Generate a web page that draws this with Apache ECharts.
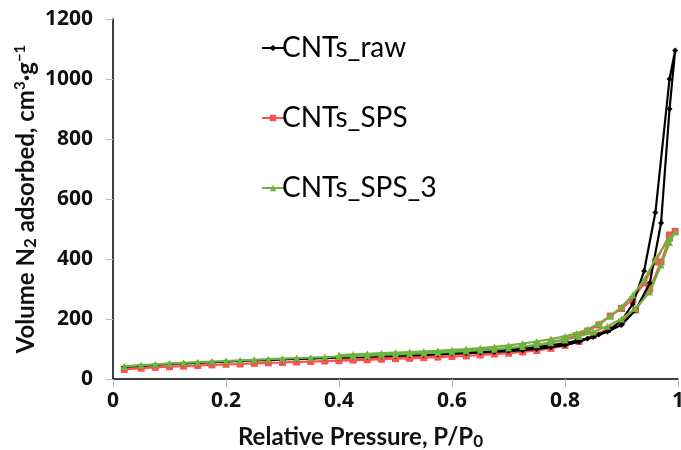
<!DOCTYPE html>
<html>
<head>
<meta charset="utf-8">
<script src="https://cdn.jsdelivr.net/npm/echarts@6/dist/echarts.min.js"></script>
<style>
  html, body { margin: 0; padding: 0; background: #fff; overflow: hidden; }
  #chart { width: 681px; height: 450px; }
</style>
</head>
<body>
<div id="chart"></div>
<script>
// relative pressure, adsorption branch (up) and desorption branch (down)
const pAds = [0.02, 0.05, 0.075, 0.10, 0.125, 0.15, 0.175, 0.20, 0.225, 0.25, 0.275, 0.30, 0.325, 0.35,
  0.375, 0.40, 0.425, 0.45, 0.475, 0.50, 0.525, 0.55, 0.575, 0.60, 0.625, 0.65, 0.675, 0.70, 0.725,
  0.75, 0.775, 0.80, 0.825, 0.85, 0.875, 0.90, 0.925, 0.95, 0.97, 0.985, 0.995]
const pDes = [0.985, 0.96, 0.94, 0.92, 0.90, 0.88, 0.86, 0.84, 0.82, 0.80, 0.775, 0.75, 0.725, 0.70,
  0.675, 0.65, 0.625, 0.60, 0.575, 0.55, 0.525, 0.50, 0.475, 0.45, 0.425, 0.40]

const rawAds = [40, 44, 47, 50, 52, 54, 56, 58, 60, 62, 63, 65, 67, 68, 70, 71, 73, 74, 76, 77, 79, 80,
  82, 84, 86, 88, 90, 93, 96, 100, 106, 113, 124, 140, 158, 180, 230, 320, 520, 900, 1095]
const rawDes = [1000, 555, 360, 250, 195, 165, 148, 135, 127, 120, 112, 106, 101, 97, 94, 91, 89, 87,
  85, 83, 81, 80, 78, 76, 75, 73]

const spsAds = [32, 36, 39, 41, 43, 45, 47, 49, 50, 52, 54, 55, 57, 58, 60, 61, 63, 64, 66, 68, 69, 71,
  73, 75, 77, 80, 83, 86, 90, 95, 102, 112, 125, 145, 165, 190, 230, 300, 390, 470, 492]
const spsDes = [480, 390, 320, 265, 235, 210, 180, 160, 145, 133, 122, 112, 105, 99, 94, 90, 87, 84,
  81, 78, 76, 74, 72, 70, 68, 66]

const sps3Ads = [42, 46, 49, 52, 54, 56, 58, 60, 62, 64, 66, 68, 70, 71, 73, 75, 76, 78, 80, 82, 84, 86,
  88, 90, 93, 96, 99, 103, 108, 114, 121, 130, 142, 157, 176, 200, 235, 290, 380, 455, 490]
const sps3Des = [470, 400, 330, 280, 240, 210, 185, 165, 152, 142, 133, 125, 118, 112, 107, 103, 100,
  97, 94, 92, 90, 88, 86, 84, 82, 80]

const seriesNames = ['CNTs_raw', 'CNTs_SPS', 'CNTs_SPS_3']

function loop(ads, des) {
  const pts = pAds.map((p, i) => [p, ads[i]])
  return pts.concat(pDes.map((p, i) => [p, des[i]]))
}

const chart = echarts.init(document.getElementById('chart'))

const axisFont = { fontFamily: 'Open Sans', fontWeight: 'bold', fontSize: 21, color: '#111' }
const nameFont = { fontFamily: 'Lato', fontWeight: 'bold', fontSize: 24, color: '#111' }

chart.setOption({
  animation: false,
  grid: { left: 113, right: 3, top: 19, bottom: 71, outerBoundsMode: 'none' },
  legend: {
    orient: 'vertical',
    left: 256,
    top: 28,
    itemWidth: 22,
    itemHeight: 8,
    itemGap: 40,
    data: seriesNames,
    textStyle: { fontFamily: 'Lato', fontSize: 28, color: '#000', lineHeight: 30, padding: [0, 0, 0, -7] }
  },
  xAxis: {
    type: 'value',
    min: 0,
    max: 1,
    interval: 0.2,
    axisLine: { lineStyle: { color: '#000', width: 1.5 } },
    axisTick: { show: true, length: 8, lineStyle: { color: '#bbb' } },
    axisLabel: { ...axisFont, margin: 12, formatter: (v) => String(+v.toFixed(1)) },
    splitLine: { show: false },
    name: 'Relative Pressure, P/P{sub|0}',
    nameLocation: 'middle',
    nameGap: 45,
    nameTextStyle: {
      ...nameFont,
      padding: [0, 70, 0, 0],
      rich: { sub: { ...nameFont, fontSize: 17, padding: [9, 0, 0, 0] } }
    }
  },
  yAxis: {
    type: 'value',
    min: 0,
    max: 1200,
    interval: 200,
    axisLine: { show: true, lineStyle: { color: '#000', width: 1.5 } },
    axisTick: { show: true, length: 7, lineStyle: { color: '#bbb' } },
    axisLabel: { ...axisFont, margin: 20, formatter: (v) => String(v) },
    splitLine: { show: false },
    name: 'Volume N{sub|2} adsorbed, cm{sup|3}·g{sup|−1}',
    nameLocation: 'middle',
    nameRotate: 90,
    nameGap: 73,
    nameMoveOverlap: false,
    nameTextStyle: {
      ...nameFont,
      rich: {
        sub: { ...nameFont, fontSize: 17, padding: [9, 0, 0, 0] },
        sup: { ...nameFont, fontSize: 15, padding: [0, 0, 12, 0] }
      }
    }
  },
  series: [
    {
      name: seriesNames[0],
      type: 'line',
      data: loop(rawAds, rawDes),
      symbol: 'diamond',
      symbolSize: 6,
      lineStyle: { color: '#000', width: 2.2 },
      itemStyle: { color: '#000' },
      z: 3
    },
    {
      name: seriesNames[1],
      type: 'line',
      data: loop(spsAds, spsDes),
      symbol: 'rect',
      symbolSize: 7,
      lineStyle: { color: '#ff4f4f', width: 2.2 },
      itemStyle: { color: '#ff4f4f' },
      z: 2
    },
    {
      name: seriesNames[2],
      type: 'line',
      data: loop(sps3Ads, sps3Des),
      symbol: 'triangle',
      symbolSize: 7,
      lineStyle: { color: '#6cb43f', width: 2.2 },
      itemStyle: { color: '#6cb43f' },
      z: 4
    }
  ]
})
</script>
</body>
</html>
